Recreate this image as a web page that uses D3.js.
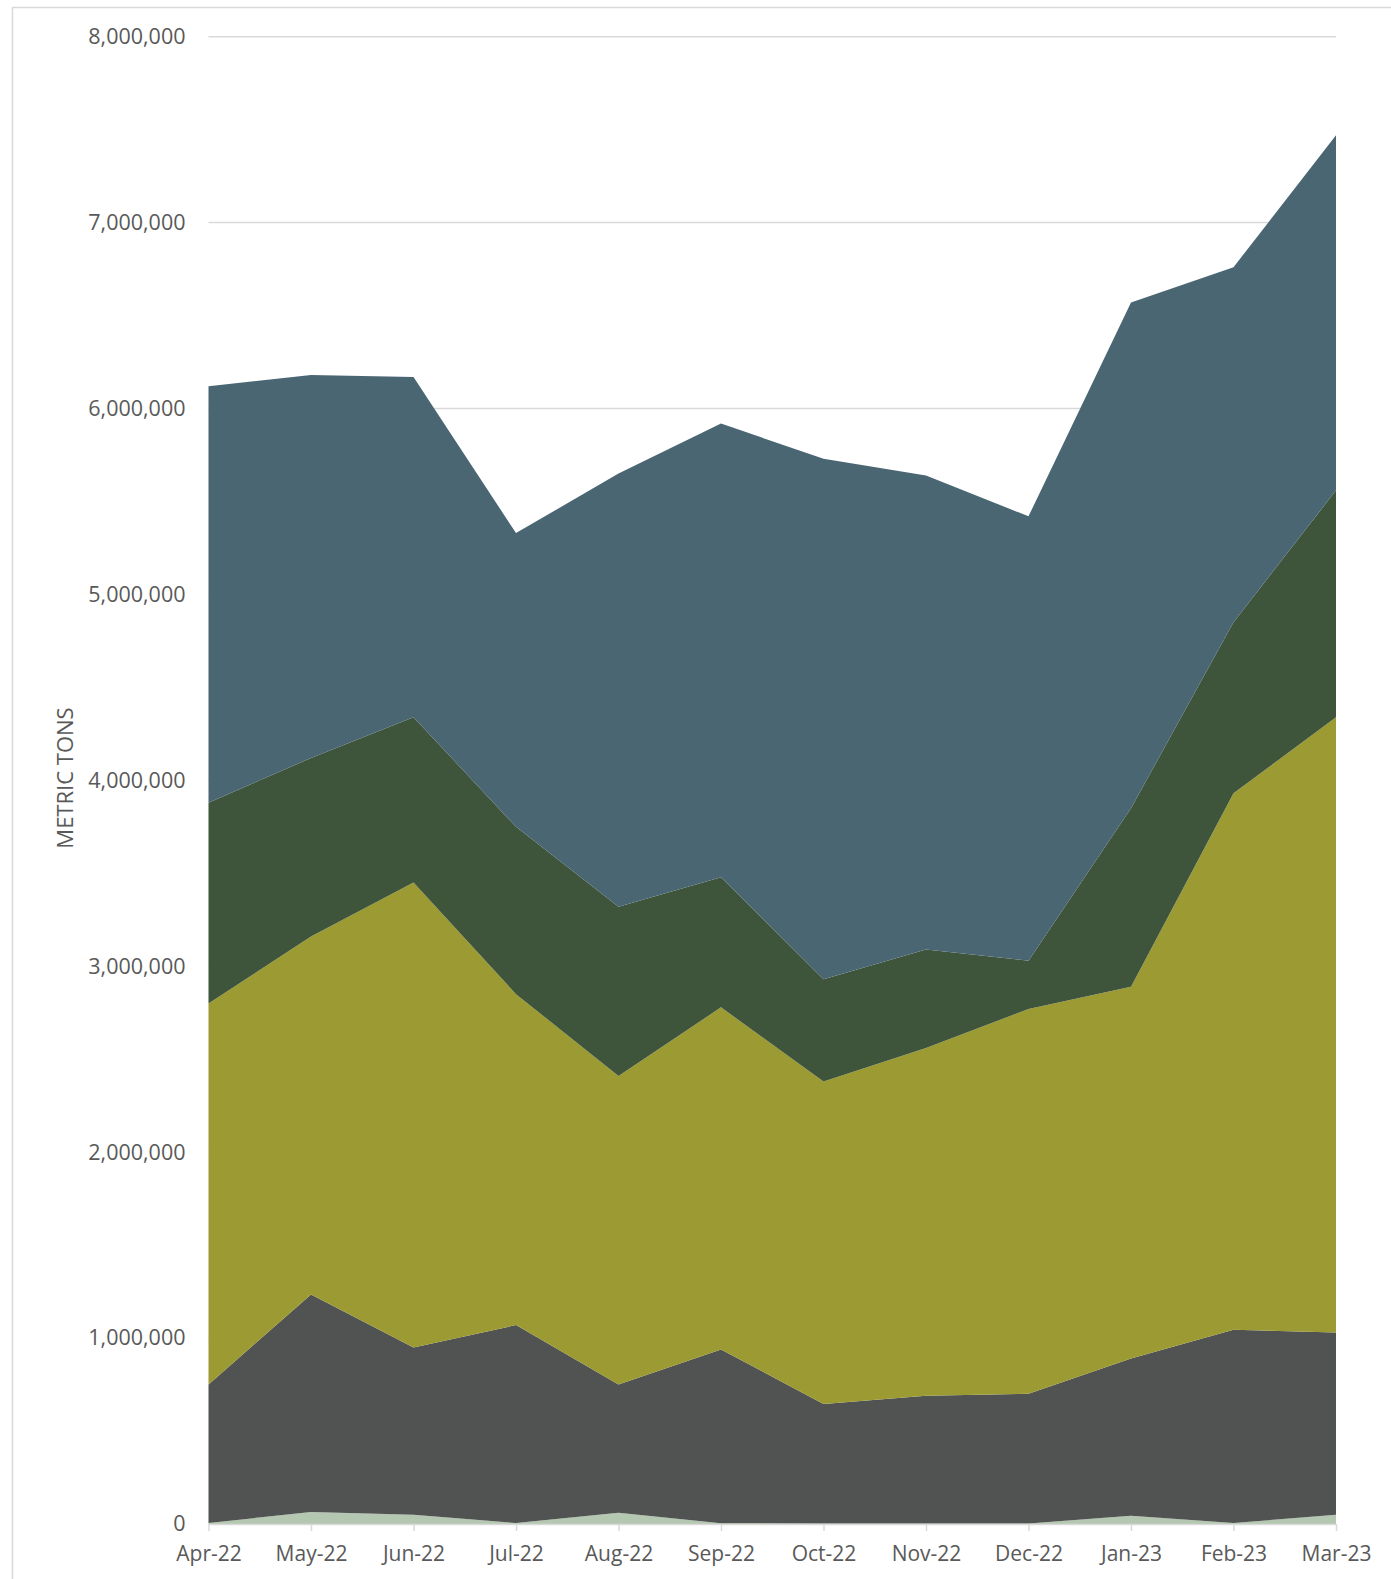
<!DOCTYPE html>
<html>
<head>
<meta charset="utf-8">
<script src="https://cdn.jsdelivr.net/npm/d3@7"></script>
<style>
  body { margin: 0; background: #fff; }
  text { font-family: "Open Sans", sans-serif; fill: #595959; }
</style>
</head>
<body>
<script>
  // months on the x axis
  var months = ["Apr-22","May-22","Jun-22","Jul-22","Aug-22","Sep-22","Oct-22","Nov-22","Dec-22","Jan-23","Feb-23","Mar-23"];

  // series values (metric tons), bottom to top
  var seriesA = [5000, 65000, 50000, 5000, 60000, 4000, 3000, 3000, 3000, 45000, 5000, 50000];
  var seriesB = [745000, 1170000, 900000, 1065000, 690000, 935000, 642000, 687000, 697000, 845000, 1040000, 980000];
  var seriesC = [2050000, 1925000, 2500000, 1780000, 1660000, 1840000, 1735000, 1870000, 2070000, 2000000, 2885000, 3310000];
  var seriesD = [1080000, 960000, 890000, 900000, 910000, 700000, 550000, 530000, 260000, 960000, 920000, 1220000];
  var seriesE = [2240000, 2060000, 1830000, 1580000, 2330000, 2440000, 2800000, 2550000, 2390000, 2720000, 1910000, 1910000];

  var yTicks = [0, 1000000, 2000000, 3000000, 4000000, 5000000, 6000000, 7000000, 8000000];
  var colors = ["#b4c7b0", "#515352", "#9c9a32", "#3e553c", "#4a6673"];

  var width = 1391, height = 1579;

  var svg = d3.select("body").append("svg")
      .attr("width", width)
      .attr("height", height);

  // chart border (cropped on right and bottom)
  svg.append("rect")
    .attr("x", 12.5).attr("y", 7.5)
    .attr("width", 1400).attr("height", 1600)
    .attr("fill", "none").attr("stroke", "#d9d9d9").attr("stroke-width", 1.5);

  var x = d3.scalePoint().domain(months).range([208.5, 1336]);
  var y = d3.scaleLinear().domain([0, 8000000]).range([1524, 36.7]);

  var table = months.map(function(m, i) {
    return {month: m, a: seriesA[i], b: seriesB[i], c: seriesC[i], d: seriesD[i], e: seriesE[i]};
  });

  var stack = d3.stack().keys(["a", "b", "c", "d", "e"]);
  var layers = stack(table);

  // gridlines
  svg.append("g").selectAll("line")
    .data(yTicks.slice(1)).enter()
    .append("line")
      .attr("x1", 208.5).attr("x2", 1336)
      .attr("y1", function(d) { return y(d); })
      .attr("y2", function(d) { return y(d); })
      .attr("stroke", "#d9d9d9").attr("stroke-width", 1.5);

  var area = d3.area()
    .x(function(d) { return x(d.data.month); })
    .y0(function(d) { return y(d[0]); })
    .y1(function(d) { return y(d[1]); });

  svg.append("g").selectAll("path")
    .data(layers).enter()
    .append("path")
      .attr("d", area)
      .attr("fill", function(d, i) { return colors[i]; });

  // x axis
  var xAxis = svg.append("g")
    .attr("transform", "translate(0," + y(0) + ")")
    .call(d3.axisBottom(x).tickSize(7).tickPadding(15));
  xAxis.select(".domain").attr("stroke", "#d9d9d9").attr("stroke-width", 1.5)
    .attr("d", "M208.5,0.5H1336");
  xAxis.selectAll(".tick line").attr("stroke", "#d9d9d9").attr("stroke-width", 1.5);
  xAxis.selectAll(".tick text").attr("fill", "#595959")
    .style("font-size", "21px").style("font-family", "'Open Sans', sans-serif");

  // y axis labels
  var yAxis = svg.append("g")
    .attr("transform", "translate(208.5,0)")
    .call(d3.axisLeft(y).tickValues(yTicks).tickSize(0).tickPadding(23)
      .tickFormat(d3.format(",")));
  yAxis.select(".domain").remove();
  yAxis.selectAll(".tick text").attr("fill", "#595959")
    .style("font-size", "21.5px").style("font-family", "'Open Sans', sans-serif");

  // y axis title
  svg.append("text")
    .attr("transform", "translate(73,778) rotate(-90)")
    .attr("text-anchor", "middle")
    .style("font-size", "22px")
    .text("METRIC TONS");
</script>
</body>
</html>
